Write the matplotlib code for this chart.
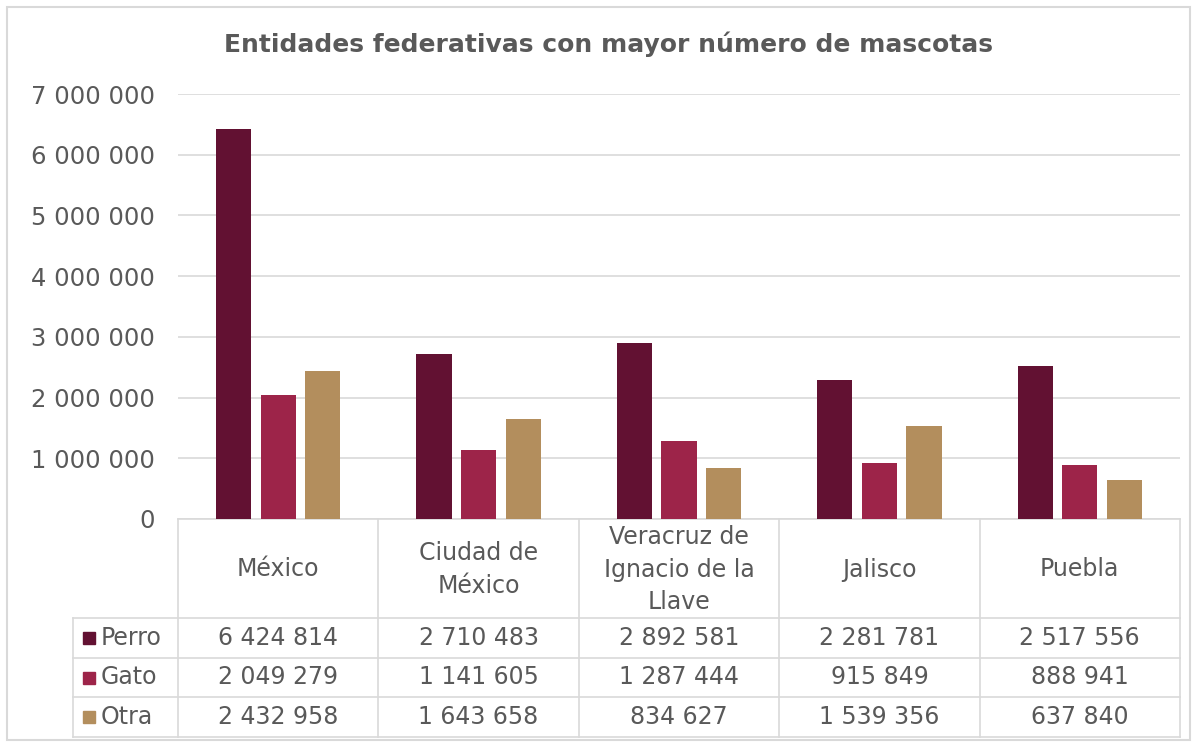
import matplotlib
matplotlib.use('Agg')
from matplotlib import pyplot as plt
from matplotlib.lines import Line2D
from matplotlib.patches import Rectangle
import numpy as np

# datos
estados = ['México', 'Ciudad de\nMéxico', 'Veracruz de\nIgnacio de la\nLlave', 'Jalisco', 'Puebla']
series = ['Perro', 'Gato', 'Otra']
perro = [6424814, 2710483, 2892581, 2281781, 2517556]
gato = [2049279, 1141605, 1287444, 915849, 888941]
otra = [2432958, 1643658, 834627, 1539356, 637840]
colores = ['#621132', '#9D2449', '#B38E5D']

W, H = 1200, 747
GRIS = '#595959'
LINEA = '#D9D9D9'
plt.rcParams['font.family'] = ['DejaVu Sans']

fig = plt.figure(figsize=(W / 100, H / 100), dpi=100)


def fx(x):
    return x / W


def fy(y):
    return 1 - y / H


# area del grafico (en pixeles)
x0, x1 = 178, 1180
y_top, y_zero = 94, 519
ax = fig.add_axes([fx(x0), fy(y_zero), fx(x1 - x0), (y_zero - y_top) / H])

n = len(estados)
pos = np.arange(n) + 0.5
ancho = 0.175
desp = 0.2225
for i, (vals, c) in enumerate(zip([perro, gato, otra], colores)):
    ax.bar(pos + (i - 1) * desp, vals, width=ancho, color=c, zorder=3)

ax.set_xlim(0, n)
ax.set_ylim(0, 7000000)
ax.set_yticks(np.arange(0, 7000001, 1000000))
ax.set_yticklabels([f'{v:,.0f}'.replace(',', ' ') for v in ax.get_yticks()],
                   fontsize=17.5, color=GRIS)
ax.set_xticks([])
ax.tick_params(axis='y', length=0, pad=16.5)
ax.grid(axis='y', color=LINEA, linewidth=1.2, zorder=0)
for s in ['top', 'right', 'left']:
    ax.spines[s].set_visible(False)
ax.spines['bottom'].set_color(LINEA)
ax.spines['bottom'].set_linewidth(1.2)

# titulo
fig.text(fx(609), fy(44), 'Entidades federativas con mayor número de mascotas',
         ha='center', va='center', fontsize=18, fontweight='bold', color=GRIS)

# tabla de datos
filas = [519, 618, 658, 697, 737]
cols = [x0 + (x1 - x0) * k / n for k in range(n + 1)]
x_izq = 73


def linea(xa, ya, xb, yb):
    fig.add_artist(Line2D([fx(xa), fx(xb)], [fy(ya), fy(yb)], color=LINEA, linewidth=1.2))


for y in filas[1:]:
    linea(x_izq, y, x1, y)
linea(x_izq, filas[1], x_izq, filas[-1])
for x in cols:
    linea(x, filas[0], x, filas[-1])

for k, nombre in enumerate(estados):
    cx = (cols[k] + cols[k + 1]) / 2
    fig.text(fx(cx), fy((filas[0] + filas[1]) / 2 + 1), nombre, ha='center', va='center',
             fontsize=17, color=GRIS, linespacing=1.45)

for r, (nombre, vals, c) in enumerate(zip(series, [perro, gato, otra], colores)):
    cy = (filas[r + 1] + filas[r + 2]) / 2
    fig.add_artist(Rectangle((fx(83), fy(cy + 6)), fx(12), 12 / H, color=c))
    fig.text(fx(101), fy(cy), nombre, ha='left', va='center', fontsize=17, color=GRIS)
    for k, v in enumerate(vals):
        cx = (cols[k] + cols[k + 1]) / 2
        fig.text(fx(cx), fy(cy), f'{v:,.0f}'.replace(',', ' '), ha='center', va='center',
                 fontsize=17, color=GRIS)

# borde exterior
fig.add_artist(Rectangle((fx(7), fy(740)), fx(1183), 733 / H, fill=False,
                         edgecolor=LINEA, linewidth=1.5))

fig.savefig('out.png', dpi=100)
